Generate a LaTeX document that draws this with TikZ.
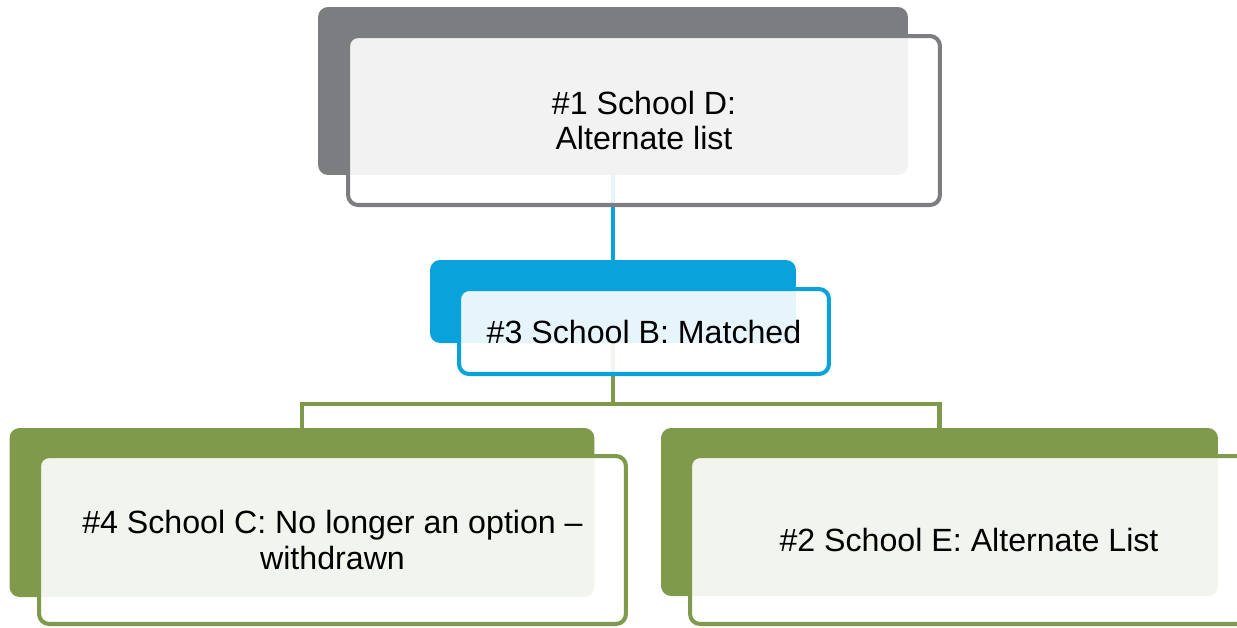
\documentclass[tikz,border=0pt]{standalone}
\usepackage{fontspec}
\setmainfont{Liberation Sans}
\definecolor{schoolgray}{RGB}{124,125,129}
\definecolor{schoolblue}{RGB}{9,162,218}
\definecolor{schoolgreen}{RGB}{127,154,74}
\begin{document}
\begin{tikzpicture}[x=0.02cm, y=-0.02cm,
  back/.style={rectangle, rounded corners=0.2cm, inner sep=0pt, outer sep=0pt},
  front/.style={rectangle, rounded corners=0.2cm, line width=2.3pt, fill=white, fill opacity=0.9, text opacity=1, inner sep=0pt, outer sep=0pt, align=center, font=\fontsize{18.3}{20}\selectfont},
  link/.style={line width=2.6pt}]
\useasboundingbox (0,0) rectangle (1237,627);
% back shapes
\node[back, fill=schoolgray, minimum width=11.8cm, minimum height=3.36cm] (D0) at (613,91) {};
\node[back, fill=schoolblue, minimum width=7.32cm, minimum height=1.66cm] (B0) at (613,301.5) {};
\node[back, fill=schoolgreen, minimum width=11.7cm, minimum height=3.38cm] (C0) at (302,512.5) {};
\node[back, fill=schoolgreen, minimum width=11.14cm, minimum height=3.36cm] (E0) at (939.5,512) {};
% connectors
\coordinate (bus) at (613,404);
\path [link, draw=schoolblue] (D0.south) edge (B0.north);
\draw [link, schoolgreen] (B0.south) -- (bus) -| (C0.north);
\draw [link, schoolgreen] (bus) -| (E0.north);
% front boxes
\node[front, draw=schoolgray, minimum width=11.84cm, minimum height=3.38cm] (D) at (644,120.5) {\#1 School D:\\Alternate list};
\node[front, draw=schoolblue, minimum width=7.4cm, minimum height=1.7cm] (B) at (644,331.5) {\#3 School B: Matched};
\node[front, draw=schoolgreen, minimum width=11.74cm, minimum height=3.36cm] (C) at (332.5,540) {\#4 School C: No longer an option --\\withdrawn};
\node[front, draw=schoolgreen, minimum width=11.16cm, minimum height=3.36cm] (E) at (969,540) {\#2 School E: Alternate List};
\end{tikzpicture}
\end{document}
